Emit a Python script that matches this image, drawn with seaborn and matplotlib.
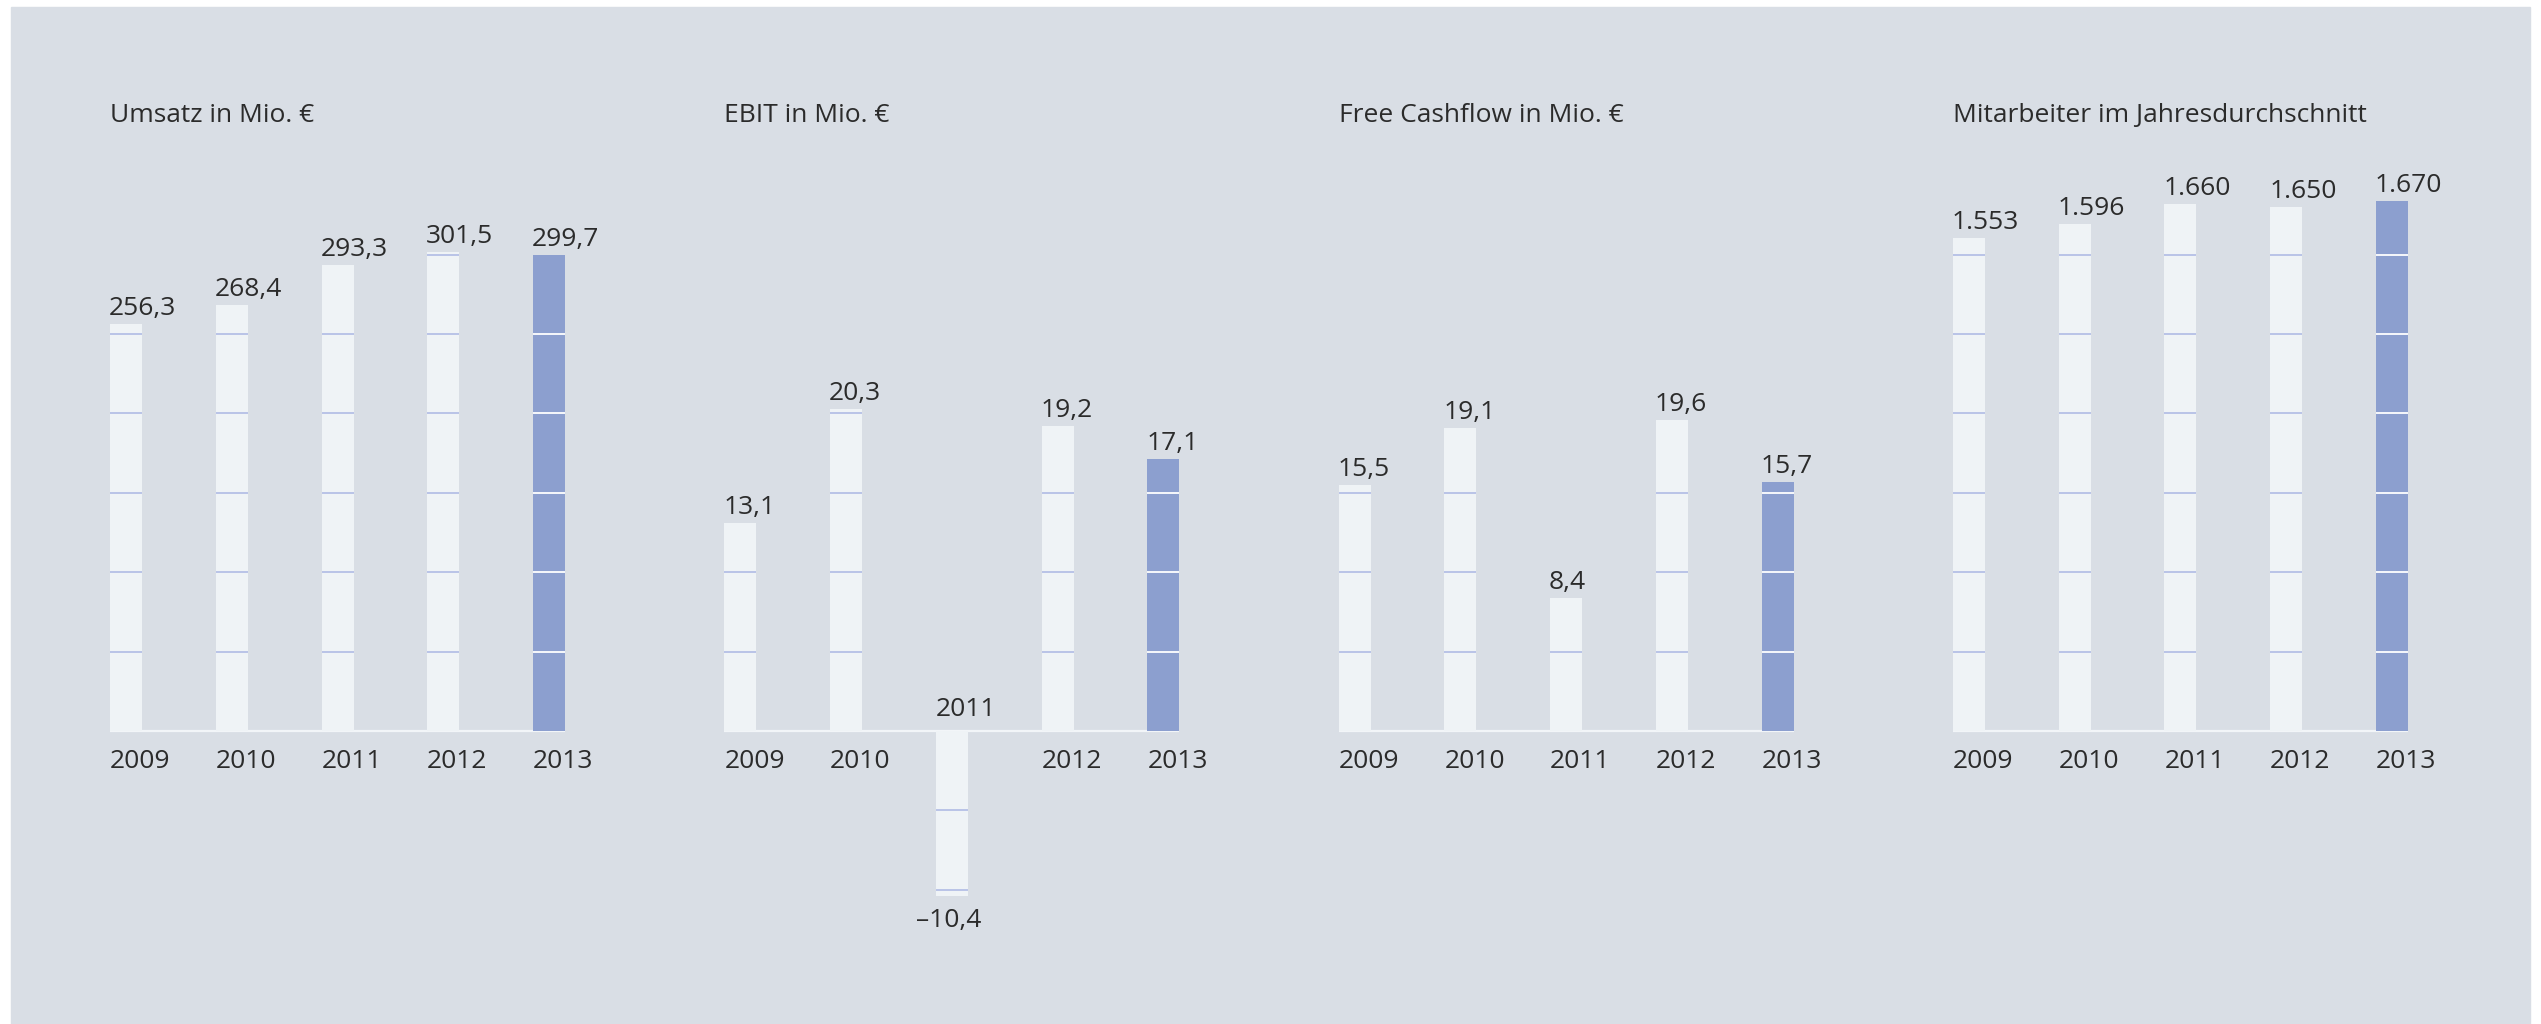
import pandas as pd
import numpy as np
import matplotlib.pyplot as plt
import seaborn as sns
from matplotlib.patches import Rectangle

# Daten
years = ['2009', '2010', '2011', '2012', '2013']
titles = ['Umsatz in Mio. €', 'EBIT in Mio. €', 'Free Cashflow in Mio. €',
          'Mitarbeiter im Jahresdurchschnitt']
umsatz = [256.3, 268.4, 293.3, 301.5, 299.7]
ebit = [13.1, 20.3, -10.4, 19.2, 17.1]
cashflow = [15.5, 19.1, 8.4, 19.6, 15.7]
mitarbeiter = [1553, 1596, 1660, 1650, 1670]
series = [umsatz, ebit, cashflow, mitarbeiter]
steps = [50, 5, 5, 250]  # Abstand der Linien in den Balken

# Farben
bg = '#d9dee5'
bar_light = '#eff3f6'
bar_dark = '#8c9fcf'
line_light = '#b5c0e6'
txt = '#2b2b2b'

sns.set_style('white')
plt.rcParams['font.family'] = ['Open Sans', 'DejaVu Sans']
plt.rcParams['font.size'] = 19

W, H = 2541, 1024
fig = plt.figure(figsize=(W / 100, H / 100), dpi=100)
fig.patch.set_facecolor('white')
fig.add_artist(Rectangle((11 / W, 0), (2530 - 11) / W, (H - 7) / H,
                         transform=fig.transFigure, color=bg, zorder=0))

u = 105.75          # Abstand der Balken in Pixel
bw = 32 / u         # Balkenbreite
grid_px = 79.4      # Pixel pro Linienabstand
base_px = 731
top_px, bot_px = 150, 990


def fmt(v, i):
    if i == 3:
        s = f'{v:,}'.replace(',', '.')
    else:
        s = f'{v:.1f}'.replace('.', ',')
    return s.replace('-', '\u2013')


for i, vals in enumerate(series):
    left0 = 110 + i * 614.3
    ax_left = left0 + bw * u / 2 - 0.6 * u
    ax = fig.add_axes([ax_left / W, (H - bot_px) / H, 5.2 * u / W, (bot_px - top_px) / H])
    ax.set_facecolor('none')

    df = pd.DataFrame({'year': years, 'value': vals})
    pal = {y: (bar_dark if y == '2013' else bar_light) for y in years}
    ax.hlines(0, -bw / 2, 4 + bw / 2, color='#f2f5f8', lw=1.6, zorder=0.5)
    sns.barplot(data=df, x='year', y='value', hue='year', palette=pal, order=years,
                width=bw, saturation=1, linewidth=0, legend=False, ax=ax, zorder=1)

    ppu = grid_px / steps[i]
    ax.set_xlim(-0.6, 4.6)
    ax.set_ylim(-(bot_px - base_px) / ppu, (base_px - top_px) / ppu)
    ax.axis('off')

    # Linien in den Balken
    for p, y in zip(ax.patches, years):
        x0, w, h = p.get_x(), p.get_width(), p.get_height()
        lc = 'white' if y == '2013' else line_light
        k = np.arange(steps[i], abs(h), steps[i]) * np.sign(h)
        if len(k):
            ax.hlines(k, x0, x0 + w, color=lc, lw=1.3, zorder=2)

    # Beschriftungen
    for p, y, v in zip(ax.patches, years, vals):
        x0 = p.get_x()
        if v >= 0:
            ax.annotate(fmt(v, i), (x0, v), xytext=(-1, 9), textcoords='offset pixels',
                        ha='left', va='baseline', color=txt)
            ax.annotate(y, (x0, 0), xytext=(0, -37), textcoords='offset pixels',
                        ha='left', va='baseline', color=txt)
        else:
            ax.annotate(fmt(v, i), (x0 + p.get_width() / 2, v), xytext=(-3, -31),
                        textcoords='offset pixels', ha='center', va='baseline', color=txt)
            ax.annotate(y, (x0, 0), xytext=(0, 15), textcoords='offset pixels',
                        ha='left', va='baseline', color=txt)

    fig.text(left0 / W, (H - 122) / H, titles[i], ha='left', va='baseline', color=txt)

fig.savefig('out.png', dpi=100, facecolor='white')
